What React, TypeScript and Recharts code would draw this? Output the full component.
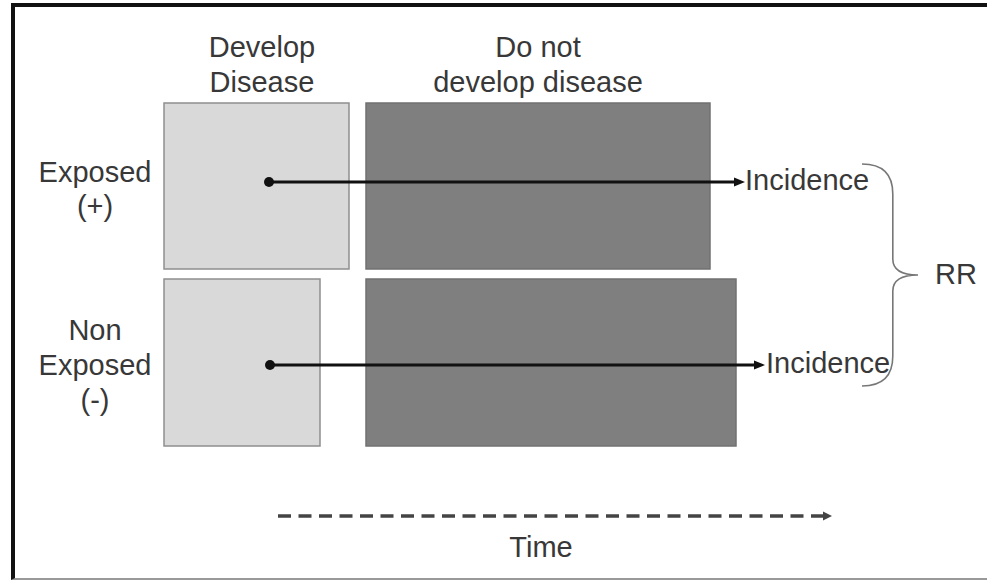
import { ComposedChart, ReferenceArea, ReferenceDot, ReferenceLine, Scatter, XAxis, YAxis } from "recharts";

// Diagram units match the picture: x grows right, y grows down.
const X_MAX = 987;
const Y_MAX = 582;

const groups = ["Exposed (+)", "Non Exposed (-)"];
const rowTop = [103, 279];
const rowBottom = [269, 446];
const diseaseStart = [164, 164];
const diseaseEnd = [349, 320];
const noDiseaseStart = [366, 366];
const noDiseaseEnd = [710, 736];

// incidence arrows, one per group
const arrowY = [182, 365];
const arrowFrom = [269, 270];
const arrowTo = [745, 765];

const timeFrom = 278;
const timeTo = 832;
const timeY = 516;

const braceX = [862, 918];
const braceY = [164, 386];

const labels = [
  { x: 262, y: 57, text: "Develop", anchor: "middle" },
  { x: 262, y: 92, text: "Disease", anchor: "middle" },
  { x: 538, y: 57, text: "Do not", anchor: "middle" },
  { x: 538, y: 92, text: "develop disease", anchor: "middle" },
  { x: 95, y: 182, text: "Exposed", anchor: "middle" },
  { x: 95, y: 216, text: "(+)", anchor: "middle" },
  { x: 95, y: 340, text: "Non", anchor: "middle" },
  { x: 95, y: 375, text: "Exposed", anchor: "middle" },
  { x: 95, y: 410, text: "(-)", anchor: "middle" },
  { x: 745, y: 190, text: "Incidence", anchor: "start" },
  { x: 766, y: 373, text: "Incidence", anchor: "start" },
  { x: 935, y: 284, text: "RR", anchor: "start" },
  { x: 541, y: 557, text: "Time", anchor: "middle" },
];

const FONT = "'Liberation Sans', Arial, sans-serif";
const TEXT = "#383838";

function LabelText(props: any) {
  const { cx, cy, payload } = props;
  return (
    <text x={cx} y={cy} textAnchor={payload.anchor} fontFamily={FONT} fontSize={29} fill={TEXT}>
      {payload.text}
    </text>
  );
}

function Arrow(props: any, color: string, width: number, dash?: string, head = 11) {
  const { x1, y1, x2, y2 } = props;
  return (
    <g>
      <line x1={x1} y1={y1} x2={x2 - head + 2} y2={y2} stroke={color} strokeWidth={width} strokeDasharray={dash} />
      <polygon points={`${x2},${y2} ${x2 - head},${y2 - 4.5} ${x2 - head},${y2 + 4.5}`} fill={color} />
    </g>
  );
}

function Brace(props: any) {
  const { x, y, width, height } = props;
  const mid = y + height / 2;
  const xs = x + width * 0.55;
  const tip = x + width;
  const d = [
    `M ${x} ${y}`,
    `Q ${xs} ${y} ${xs} ${y + 30}`,
    `L ${xs} ${mid - 16}`,
    `Q ${xs} ${mid} ${tip} ${mid}`,
    `Q ${xs} ${mid} ${xs} ${mid + 16}`,
    `L ${xs} ${y + height - 30}`,
    `Q ${xs} ${y + height} ${x} ${y + height}`,
  ].join(" ");
  return <path d={d} fill="none" stroke="#777" strokeWidth={1.6} />;
}

export default function App() {
  return (
    <div style={{ position: "absolute", left: 0, top: 0, width: X_MAX, height: Y_MAX, background: "#fff" }}>
      <div
        style={{
          position: "absolute",
          left: 11,
          top: 3,
          width: X_MAX - 11,
          height: 577,
          boxSizing: "border-box",
          borderTop: "4px solid #111",
          borderLeft: "4px solid #111",
          borderBottom: "2px solid #999",
        }}
      />
      <div style={{ position: "absolute", left: 0, top: 0 }}>
        <ComposedChart width={X_MAX} height={Y_MAX} margin={{ top: 0, right: 0, bottom: 0, left: 0 }}>
          <XAxis type="number" dataKey="x" domain={[0, X_MAX]} hide allowDataOverflow />
          <YAxis type="number" dataKey="y" domain={[0, Y_MAX]} reversed hide allowDataOverflow width={0} />

          {groups.map((g, i) => (
            <ReferenceArea
              key={`d-${g}`}
              x1={diseaseStart[i]}
              x2={diseaseEnd[i]}
              y1={rowTop[i]}
              y2={rowBottom[i]}
              fill="#d9d9d9"
              fillOpacity={1}
              stroke="#8f8f8f"
              strokeWidth={1.5}
              ifOverflow="visible"
            />
          ))}
          {groups.map((g, i) => (
            <ReferenceArea
              key={`n-${g}`}
              x1={noDiseaseStart[i]}
              x2={noDiseaseEnd[i]}
              y1={rowTop[i]}
              y2={rowBottom[i]}
              fill="#7f7f7f"
              fillOpacity={1}
              stroke="#727272"
              strokeWidth={1.5}
              ifOverflow="visible"
            />
          ))}

          {groups.map((g, i) => (
            <ReferenceLine
              key={`a-${g}`}
              segment={[
                { x: arrowFrom[i], y: arrowY[i] },
                { x: arrowTo[i], y: arrowY[i] },
              ]}
              ifOverflow="visible"
              shape={(p: any) => Arrow(p, "#111", 3)}
            />
          ))}
          {groups.map((g, i) => (
            <ReferenceDot
              key={`p-${g}`}
              x={arrowFrom[i]}
              y={arrowY[i]}
              r={5}
              fill="#111"
              stroke="none"
              ifOverflow="visible"
            />
          ))}

          <ReferenceLine
            segment={[
              { x: timeFrom, y: timeY },
              { x: timeTo, y: timeY },
            ]}
            ifOverflow="visible"
            shape={(p: any) => Arrow(p, "#444", 3.5, "13 7.5", 9)}
          />

          <ReferenceArea
            x1={braceX[0]}
            x2={braceX[1]}
            y1={braceY[0]}
            y2={braceY[1]}
            ifOverflow="visible"
            shape={Brace}
          />

          <Scatter data={labels} shape={LabelText} isAnimationActive={false} legendType="none" />
        </ComposedChart>
      </div>
    </div>
  );
}
